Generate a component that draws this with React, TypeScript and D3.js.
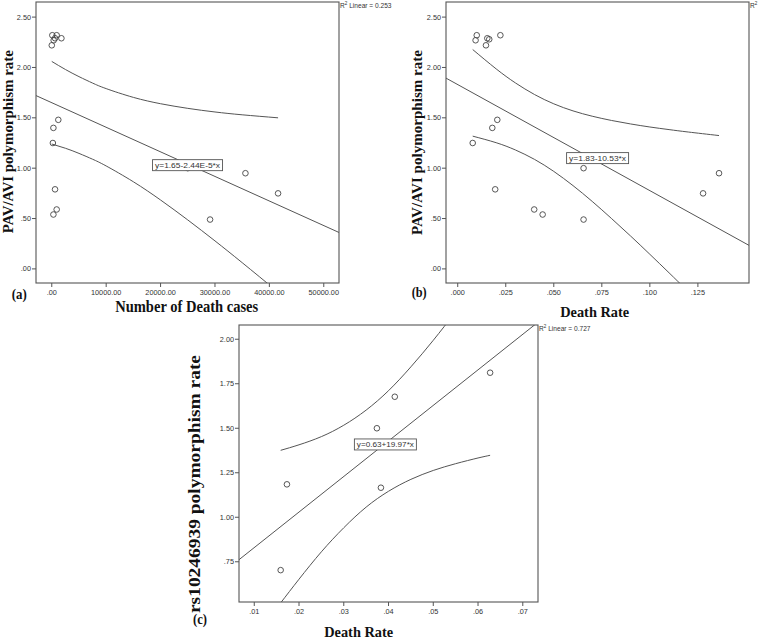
import React from "react";
import * as d3 from "d3";

// ---------- Panel (a): PAV/AVI rate vs number of death cases ----------
const aDeathCases = [100, 900, 0, 350, 600, 1770, 1200, 300, 200, 600, 900, 300, 29100, 35600, 41600, 25000];
const aPavRate = [2.32, 2.32, 2.22, 2.27, 2.29, 2.29, 1.48, 1.4, 1.25, 0.79, 0.59, 0.54, 0.49, 0.95, 0.75, 1.0];
const aBandX = [0, 2500, 5000, 7500, 10000, 15000, 20000, 25000, 30000, 35000, 41600];
const aBandUpper = [2.06, 1.98, 1.909, 1.845, 1.79, 1.703, 1.64, 1.594, 1.558, 1.53, 1.5];
const aBandLower = [1.24, 1.198, 1.147, 1.089, 1.022, 0.865, 0.684, 0.486, 0.278, 0.062, -0.23];
const aFit = [1.65, -2.44e-5];
const aXTicks = [0, 10000, 20000, 30000, 40000, 50000];
const aXTickLabels = [".00", "10000.00", "20000.00", "30000.00", "40000.00", "50000.00"];

// ---------- Panel (b): PAV/AVI rate vs death rate ----------
const bDeathRate = [0.0099, 0.0093, 0.0147, 0.0154, 0.0164, 0.0222, 0.0206, 0.018, 0.0078, 0.0195, 0.0398, 0.0442, 0.0655, 0.0655, 0.1277, 0.136];
const bPavRate = [2.32, 2.27, 2.22, 2.29, 2.28, 2.32, 1.48, 1.4, 1.25, 0.79, 0.59, 0.54, 0.49, 1.0, 0.75, 0.95];
const bBandX = [0.0078, 0.02, 0.03, 0.04, 0.05, 0.06, 0.07, 0.08, 0.09, 0.1, 0.11, 0.12, 0.136];
const bBandUpper = [2.178, 1.986, 1.847, 1.731, 1.639, 1.569, 1.516, 1.474, 1.439, 1.409, 1.383, 1.359, 1.324];
const bBandLower = [1.318, 1.253, 1.181, 1.087, 0.968, 0.827, 0.67, 0.501, 0.326, 0.145, -0.039, -0.226, -0.528];
const bFit = [1.83, -10.53];
const bXTicks = [0, 0.025, 0.05, 0.075, 0.1, 0.125];
const bXTickLabels = [".000", ".025", ".050", ".075", ".100", ".125"];

const abYTicks = [0, 0.5, 1, 1.5, 2, 2.5];
const abYTickLabels = [".00", ".50", "1.00", "1.50", "2.00", "2.50"];

// ---------- Panel (c): rs10246939 rate vs death rate ----------
const cDeathRate = [0.0159, 0.0173, 0.0374, 0.0414, 0.0383, 0.0627];
const cRsRate = [0.703, 1.185, 1.5, 1.677, 1.166, 1.812];
const cBandX = [0.0159, 0.02, 0.025, 0.03, 0.035, 0.04, 0.045, 0.05, 0.055, 0.06, 0.0627];
const cBandUpper = [1.376, 1.407, 1.453, 1.517, 1.602, 1.711, 1.845, 1.994, 2.155, 2.323, 2.416];
const cBandLower = [0.519, 0.652, 0.806, 0.941, 1.057, 1.146, 1.213, 1.263, 1.301, 1.333, 1.348];
const cFit = [0.63, 19.97];
const cXTicks = [0.01, 0.02, 0.03, 0.04, 0.05, 0.06, 0.07];
const cXTickLabels = [".01", ".02", ".03", ".04", ".05", ".06", ".07"];
const cYTicks = [0.75, 1.0, 1.25, 1.5, 1.75, 2.0];
const cYTickLabels = [".75", "1.00", "1.25", "1.50", "1.75", "2.00"];

const equations = ["y=1.65-2.44E-5*x", "y=1.83-10.53*x", "y=0.63+19.97*x"];
const r2Labels = ["0.253", "", "0.727"];

const LINE = "#555";
const SANS = "'Liberation Sans', Arial, sans-serif";
const SERIF = "'Liberation Serif', 'Times New Roman', serif";

type PanelProps = {
  id: string;
  frame: { l: number; t: number; r: number; b: number };
  xDomain: [number, number];
  yDomain: [number, number];
  xs: number[];
  ys: number[];
  bandX: number[];
  upper: number[];
  lower: number[];
  fit: number[];
  xTicks: number[];
  xTickLabels: string[];
  yTicks: number[];
  yTickLabels: string[];
  eq: string;
  eqPos: [number, number];
  r2: string;
};

function Panel(p: PanelProps) {
  const { frame } = p;
  const x = d3.scaleLinear().domain(p.xDomain).range([frame.l, frame.r]);
  const y = d3.scaleLinear().domain(p.yDomain).range([frame.b, frame.t]);
  const curve = d3
    .line<[number, number]>()
    .x((d) => x(d[0]))
    .y((d) => y(d[1]))
    .curve(d3.curveNatural);
  const straight = d3
    .line<number>()
    .x((d) => x(d))
    .y((d) => y(p.fit[0] + p.fit[1] * d));
  const upperPts = p.bandX.map((v, i) => [v, p.upper[i]] as [number, number]);
  const lowerPts = p.bandX.map((v, i) => [v, p.lower[i]] as [number, number]);
  const eqX = x(p.eqPos[0]);
  const eqY = y(p.eqPos[1]);
  const eqW = p.eq.length * 4.0 + 6;
  return (
    <g>
      <defs>
        <clipPath id={`clip-${p.id}`}>
          <rect x={frame.l} y={frame.t} width={frame.r - frame.l} height={frame.b - frame.t} />
        </clipPath>
      </defs>
      <g clipPath={`url(#clip-${p.id})`} fill="none" stroke={LINE} strokeWidth={1}>
        <path d={straight(p.xDomain) || ""} />
        <path d={curve(upperPts) || ""} />
        <path d={curve(lowerPts) || ""} />
      </g>
      {p.xs.map((v, i) => (
        <circle key={i} cx={x(v)} cy={y(p.ys[i])} r={2.8} fill="none" stroke="#444" strokeWidth={0.9} />
      ))}
      {p.eq && (
        <g>
          <rect x={eqX - eqW / 2} y={eqY - 5.5} width={eqW} height={11} fill="#fff" stroke={LINE} strokeWidth={0.9} />
          <text x={eqX} y={eqY + 2.6} fontSize={7.2} fontFamily={SANS} fill="#333" textAnchor="middle"
            textLength={eqW - 5} lengthAdjust="spacingAndGlyphs">
            {p.eq}
          </text>
        </g>
      )}
      <rect x={frame.l} y={frame.t} width={frame.r - frame.l} height={frame.b - frame.t} fill="none" stroke={LINE} strokeWidth={1.1} />
      {p.xTicks.map((v, i) => (
        <g key={i}>
          <line x1={x(v)} x2={x(v)} y1={frame.b} y2={frame.b + 4} stroke={LINE} />
          <text x={x(v)} y={frame.b + 11.5} fontSize={7.3} fontFamily={SANS} fill="#333" textAnchor="middle">
            {p.xTickLabels[i]}
          </text>
        </g>
      ))}
      {p.yTicks.map((v, i) => (
        <g key={i}>
          <line x1={frame.l - 4} x2={frame.l} y1={y(v)} y2={y(v)} stroke={LINE} />
          <text x={frame.l - 5} y={y(v) + 2.6} fontSize={7.3} fontFamily={SANS} fill="#333" textAnchor="end">
            {p.yTickLabels[i]}
          </text>
        </g>
      ))}
      <text x={frame.r + 1} y={frame.t + 5.5} fontSize={6.6} fontFamily={SANS} fill="#333">
        R<tspan fontSize={4.6} dy={-2.5}>2</tspan>
        {p.r2 ? <tspan dy={2.5}>{` Linear = ${p.r2}`}</tspan> : null}
      </text>
    </g>
  );
}

export default function App() {
  const yAB: [number, number] = [-0.14, 2.65];
  return (
    <svg width={758} height={638} style={{ position: "absolute", left: 0, top: 0, background: "#fff" }}>
      <Panel id="a" frame={{ l: 36, t: 2, r: 339, b: 283 }} xDomain={[-2900, 52800]} yDomain={yAB}
        xs={aDeathCases} ys={aPavRate} bandX={aBandX} upper={aBandUpper} lower={aBandLower} fit={aFit}
        xTicks={aXTicks} xTickLabels={aXTickLabels} yTicks={abYTicks} yTickLabels={abYTickLabels}
        eq={equations[0]} eqPos={[24960, 1.03]} r2={r2Labels[0]} />
      <Panel id="b" frame={{ l: 446, t: 2, r: 749, b: 283 }} xDomain={[-0.0061, 0.1516]} yDomain={yAB}
        xs={bDeathRate} ys={bPavRate} bandX={bBandX} upper={bBandUpper} lower={bBandLower} fit={bFit}
        xTicks={bXTicks} xTickLabels={bXTickLabels} yTicks={abYTicks} yTickLabels={abYTickLabels}
        eq={equations[1]} eqPos={[0.0728, 1.1]} r2={r2Labels[1]} />
      <Panel id="c" frame={{ l: 239, t: 325, r: 538, b: 602 }} xDomain={[0.00659, 0.0734]} yDomain={[0.524, 2.08]}
        xs={cDeathRate} ys={cRsRate} bandX={cBandX} upper={cBandUpper} lower={cBandLower} fit={cFit}
        xTicks={cXTicks} xTickLabels={cXTickLabels} yTicks={cYTicks} yTickLabels={cYTickLabels}
        eq={equations[2]} eqPos={[0.0393, 1.409]} r2={r2Labels[2]} />

      <g fontFamily={SERIF} fontWeight="bold" fill="#111">
        <text transform="translate(12.5,141.7) rotate(-90)" fontSize={15.5} textAnchor="middle"
          textLength={183} lengthAdjust="spacingAndGlyphs">PAV/AVI polymorphism rate</text>
        <text transform="translate(422,142.5) rotate(-90)" fontSize={15.5} textAnchor="middle"
          textLength={185} lengthAdjust="spacingAndGlyphs">PAV/AVI polymorphism rate</text>
        <text transform="translate(200,484) rotate(-90)" fontSize={16} textAnchor="middle"
          textLength={258} lengthAdjust="spacingAndGlyphs">rs10246939 polymorphism rate</text>

        <text x={186.7} y={312} fontSize={16} textAnchor="middle" textLength={143} lengthAdjust="spacingAndGlyphs">
          Number of Death cases
        </text>
        <text x={594.7} y={316.5} fontSize={15} textAnchor="middle" textLength={69} lengthAdjust="spacingAndGlyphs">
          Death Rate
        </text>
        <text x={358.7} y={636.5} fontSize={15} textAnchor="middle" textLength={69} lengthAdjust="spacingAndGlyphs">
          Death Rate
        </text>

        <text x={11.7} y={299} fontSize={15} textLength={15} lengthAdjust="spacingAndGlyphs">(a)</text>
        <text x={411.7} y={297} fontSize={15} textLength={15} lengthAdjust="spacingAndGlyphs">(b)</text>
        <text x={193} y={624} fontSize={15} textLength={14} lengthAdjust="spacingAndGlyphs">(c)</text>
      </g>
    </svg>
  );
}
